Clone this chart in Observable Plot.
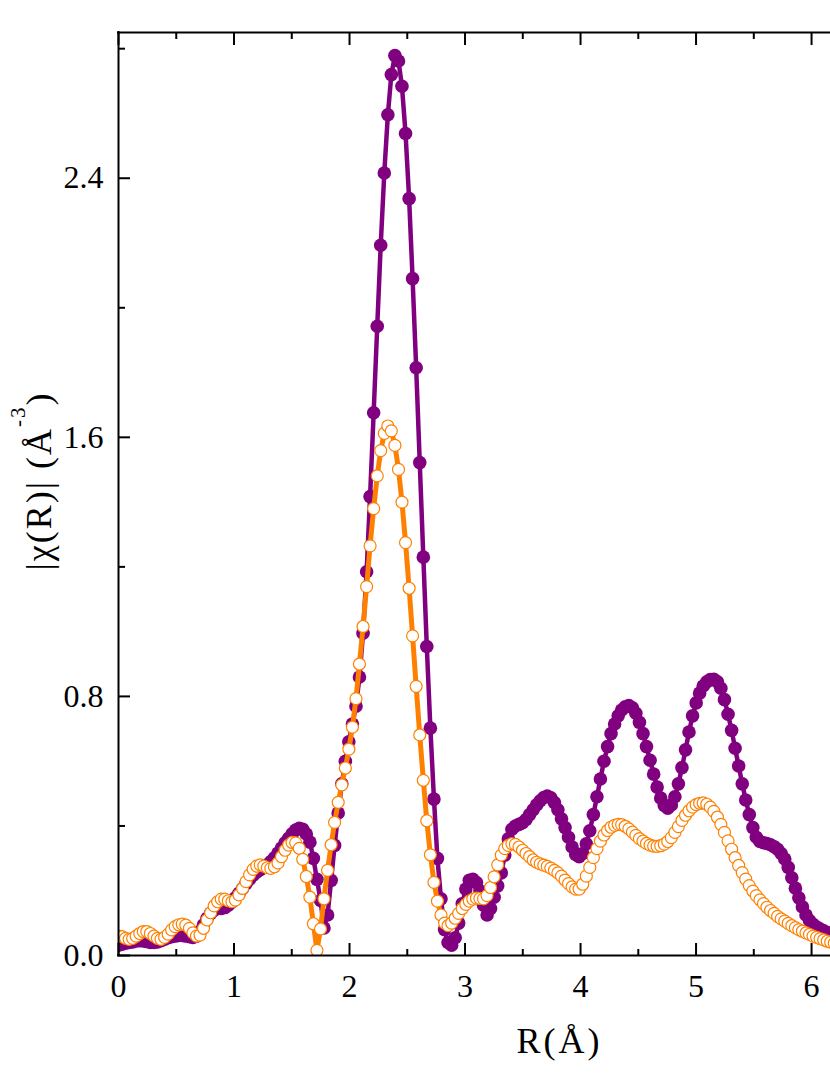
<!DOCTYPE html>
<html><head><meta charset="utf-8">
<script src="https://cdn.jsdelivr.net/npm/d3@7"></script>
<script src="https://cdn.jsdelivr.net/npm/@observablehq/plot@0.6"></script>
<style>
html,body{margin:0;padding:0;background:#fff;}
#chart{width:830px;height:1075px;overflow:hidden;}
</style></head>
<body><div id="chart"></div>
<script>
// R grid (Å)
const rValues = [0.000,0.031,0.061,0.092,0.123,0.153,0.184,0.215,0.245,0.276,0.307,0.337,0.368,0.399,0.430,0.460,0.491,0.522,0.552,0.583,
0.614,0.644,0.675,0.706,0.736,0.767,0.798,0.828,0.859,0.890,0.920,0.951,0.982,1.012,1.043,1.074,1.104,1.135,1.166,1.197,
1.227,1.258,1.289,1.319,1.350,1.381,1.411,1.442,1.473,1.503,1.534,1.565,1.595,1.626,1.657,1.687,1.718,1.749,1.779,1.810,
1.841,1.871,1.902,1.933,1.964,1.994,2.025,2.056,2.086,2.117,2.148,2.178,2.209,2.240,2.270,2.301,2.332,2.362,2.393,2.424,
2.454,2.485,2.516,2.546,2.577,2.608,2.639,2.669,2.700,2.731,2.761,2.792,2.823,2.853,2.884,2.915,2.945,2.976,3.007,3.037,
3.068,3.099,3.129,3.160,3.191,3.221,3.252,3.283,3.314,3.344,3.375,3.406,3.436,3.467,3.498,3.528,3.559,3.590,3.620,3.651,
3.682,3.712,3.743,3.774,3.804,3.835,3.866,3.896,3.927,3.958,3.988,4.019,4.050,4.080,4.111,4.142,4.172,4.203,4.234,4.264,
4.295,4.326,4.356,4.387,4.418,4.449,4.479,4.510,4.541,4.571,4.602,4.633,4.663,4.694,4.725,4.755,4.786,4.817,4.847,4.878,
4.909,4.939,4.970,5.001,5.031,5.062,5.093,5.123,5.154,5.185,5.215,5.246,5.277,5.308,5.338,5.369,5.400,5.430,5.461,5.492,
5.522,5.553,5.584,5.614,5.645,5.676,5.706,5.737,5.768,5.798,5.829,5.860,5.890,5.921,5.952,5.982,6.013,6.044,6.074,6.105,
6.136,6.166,6.197];

// purple series (filled circles)
const purpleValues = [0.032,0.035,0.038,0.040,0.042,0.045,0.046,0.045,0.043,0.040,0.040,0.042,0.046,0.050,0.055,0.058,0.060,0.062,0.062,0.060,
0.058,0.056,0.060,0.075,0.095,0.115,0.130,0.140,0.145,0.145,0.148,0.155,0.165,0.178,0.192,0.207,0.222,0.236,0.248,0.258,
0.265,0.272,0.280,0.290,0.302,0.316,0.332,0.348,0.362,0.376,0.387,0.393,0.390,0.375,0.350,0.300,0.235,0.170,0.085,0.125,
0.232,0.340,0.440,0.530,0.600,0.660,0.715,0.770,0.860,0.995,1.185,1.417,1.676,1.943,2.193,2.416,2.596,2.720,2.779,2.762,
2.684,2.538,2.337,2.090,1.815,1.522,1.230,0.954,0.702,0.483,0.300,0.175,0.080,0.040,0.032,0.055,0.100,0.160,0.205,0.232,
0.235,0.225,0.200,0.155,0.125,0.145,0.180,0.215,0.255,0.310,0.360,0.390,0.400,0.405,0.410,0.420,0.435,0.450,0.465,0.478,
0.488,0.492,0.487,0.472,0.450,0.422,0.395,0.365,0.335,0.312,0.305,0.315,0.345,0.385,0.435,0.490,0.545,0.600,0.645,0.685,
0.715,0.740,0.758,0.768,0.772,0.765,0.748,0.720,0.685,0.645,0.603,0.560,0.520,0.486,0.463,0.455,0.465,0.490,0.530,0.580,
0.635,0.690,0.740,0.780,0.810,0.832,0.845,0.852,0.853,0.845,0.825,0.790,0.745,0.695,0.640,0.585,0.530,0.480,0.435,0.395,
0.365,0.352,0.348,0.346,0.342,0.336,0.328,0.315,0.298,0.272,0.240,0.208,0.178,0.150,0.125,0.108,0.096,0.088,0.082,0.076,
0.071,0.067,0.064];

// orange series (open circles)
const orangeValues = [0.060,0.058,0.053,0.050,0.053,0.060,0.068,0.074,0.074,0.068,0.060,0.053,0.050,0.056,0.066,0.079,0.089,0.095,0.097,0.094,
0.084,0.070,0.060,0.063,0.084,0.110,0.132,0.153,0.166,0.174,0.174,0.169,0.166,0.171,0.187,0.207,0.228,0.249,0.266,0.276,
0.280,0.276,0.271,0.269,0.274,0.286,0.305,0.325,0.341,0.349,0.348,0.331,0.297,0.244,0.180,0.098,0.016,0.082,0.175,0.263,
0.342,0.411,0.473,0.527,0.579,0.637,0.705,0.793,0.900,1.016,1.139,1.265,1.380,1.481,1.559,1.612,1.635,1.620,1.575,1.501,
1.400,1.275,1.134,0.987,0.831,0.681,0.541,0.416,0.311,0.226,0.168,0.125,0.100,0.092,0.100,0.115,0.130,0.145,0.158,0.168,
0.174,0.177,0.176,0.175,0.185,0.210,0.243,0.280,0.310,0.330,0.340,0.345,0.343,0.335,0.325,0.315,0.305,0.295,0.288,0.283,
0.279,0.275,0.270,0.263,0.255,0.245,0.233,0.222,0.212,0.205,0.205,0.220,0.245,0.272,0.302,0.330,0.353,0.372,0.386,0.396,
0.402,0.405,0.404,0.399,0.391,0.381,0.371,0.361,0.353,0.346,0.341,0.338,0.337,0.339,0.344,0.352,0.364,0.380,0.398,0.417,
0.433,0.447,0.458,0.466,0.470,0.471,0.467,0.458,0.445,0.427,0.405,0.380,0.354,0.328,0.302,0.278,0.256,0.236,0.216,0.199,
0.185,0.172,0.160,0.149,0.139,0.130,0.121,0.113,0.106,0.099,0.092,0.086,0.080,0.075,0.070,0.065,0.060,0.056,0.052,0.048,
0.044,0.041,0.038];

const xMajorTicks = [0, 1, 2, 3, 4, 5, 6];
const xMinorTicks = [0.5, 1.5, 2.5, 3.5, 4.5, 5.5];
const yMajorTicks = [0, 0.8, 1.6, 2.4];
const yMinorTicks = [0.4, 1.2, 2.0, 2.8];
const xDomain = [0, 6.164];
const yDomain = [0, 2.85];
const xTitle = "R(Å)";
const yTitleMain = "|χ(R)| (Å";
const yTitleSup = "-3";
const yTitleEnd = ")";

const purple = rValues.map((r, i) => ({r, v: purpleValues[i]}));
const orange = rValues.map((r, i) => ({r, v: orangeValues[i]}));

const serif = "'Liberation Serif','Times New Roman',Times,serif";
const PURPLE = "#800080";
const ORANGE = "#FF8000";

const chart = Plot.plot({
  width: 830,
  height: 1075,
  marginLeft: 118,
  marginRight: 0,
  marginTop: 32,
  marginBottom: 120,
  x: {domain: xDomain},
  y: {domain: yDomain},
  style: {fontFamily: serif, color: "black", background: "white", overflow: "hidden"},
  marks: [
    Plot.line(purple, {x: "r", y: "v", stroke: PURPLE, strokeWidth: 4.5, clip: true}),
    Plot.dot(purple, {x: "r", y: "v", r: 6.8, fill: PURPLE, stroke: "none", clip: true}),
    Plot.line(orange, {x: "r", y: "v", stroke: ORANGE, strokeWidth: 5, clip: true}),
    Plot.dot(orange, {x: "r", y: "v", r: 6, fill: "white", stroke: ORANGE, strokeWidth: 1.2, clip: true}),
    // frame lines
    Plot.ruleX([xDomain[0]], {stroke: "black", strokeWidth: 2, strokeLinecap: "square"}),
    Plot.ruleY([yDomain[0]], {stroke: "black", strokeWidth: 2, strokeLinecap: "square"}),
    Plot.ruleY([yDomain[1]], {stroke: "black", strokeWidth: 2, strokeLinecap: "square"}),
    // inward ticks
    Plot.axisX(xMajorTicks, {anchor: "bottom", tickSize: -12, strokeWidth: 2, fill: "none", label: null}),
    Plot.axisX(xMinorTicks, {anchor: "bottom", tickSize: -6, strokeWidth: 2, fill: "none", label: null}),
    Plot.axisX(xMajorTicks, {anchor: "top", tickSize: -12, strokeWidth: 2, fill: "none", label: null}),
    Plot.axisX(xMinorTicks, {anchor: "top", tickSize: -6, strokeWidth: 2, fill: "none", label: null}),
    Plot.axisY(yMajorTicks, {anchor: "left", tickSize: -12, strokeWidth: 2, fill: "none", label: null}),
    Plot.axisY(yMinorTicks, {anchor: "left", tickSize: -7, strokeWidth: 2, fill: "none", label: null}),
    // tick labels
    Plot.axisX(xMajorTicks, {anchor: "bottom", tickSize: 0, tickPadding: 19, fontSize: 32, fill: "black", label: null, tickFormat: d => String(d)}),
    Plot.axisY(yMajorTicks, {anchor: "left", tickSize: 0, tickPadding: 15, fontSize: 32, fill: "black", label: null, tickFormat: d => d.toFixed(1)}),
    // axis titles
    Plot.text([xTitle], {frameAnchor: "bottom", text: d => d, dx: 85, dy: 97, lineAnchor: "bottom", fontSize: 36, fill: "black", textAnchor: "middle"}),
    Plot.text([yTitleMain], {frameAnchor: "left", text: d => d, dx: -68, dy: -13, rotate: -90, lineAnchor: "bottom", fontSize: 36, fill: "black", textAnchor: "middle"})
  ]
});

document.getElementById("chart").append(chart);

// superscript in the y title
chart.querySelectorAll("text").forEach(t => {
  if (t.textContent === yTitleMain) {
    const ns = "http://www.w3.org/2000/svg";
    const sup = document.createElementNS(ns, "tspan");
    sup.setAttribute("font-size", "21");
    sup.setAttribute("dy", "-26");
    sup.textContent = yTitleSup;
    const end = document.createElementNS(ns, "tspan");
    end.setAttribute("dy", "26");
    end.textContent = yTitleEnd;
    t.appendChild(sup);
    t.appendChild(end);
    t.setAttribute("letter-spacing", "2");
  }
  if (t.textContent === xTitle) t.setAttribute("letter-spacing", "3");
});
</script>
</body></html>
